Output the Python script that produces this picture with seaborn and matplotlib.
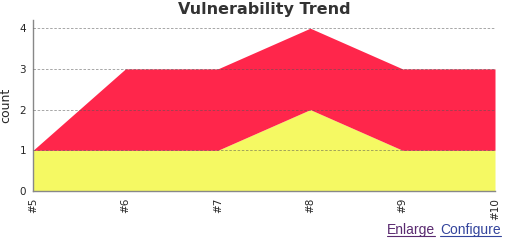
import matplotlib
matplotlib.use("Agg")
import matplotlib.pyplot as plt
import seaborn as sns
import pandas as pd

builds = ["#5", "#6", "#7", "#8", "#9", "#10"]
low_counts = [1, 1, 1, 2, 1, 1]
high_counts = [0, 2, 2, 2, 2, 2]
yticks = [0, 1, 2, 3, 4]

sns.set_style("white")
plt.rcParams['font.family'] = ['DejaVu Sans']

df = pd.DataFrame({"build": builds, "low": low_counts, "high": high_counts})
x = list(range(len(builds)))

fig = plt.figure(figsize=(5.11, 2.48), dpi=100)
ax = fig.add_axes([0.0646, 0.2298, 0.9041, 0.6894])
ax.stackplot(x, df["low"], df["high"], colors=["#F5F963", "#FF264B"], linewidth=0)
ax.set_xlim(0, len(builds) - 1)
ax.set_ylim(0, 4.2)
ax.set_yticks(yticks)
ax.set_xticks(x)
ax.set_xticklabels(builds, rotation=90, fontsize=7.5)
ax.tick_params(axis='y', labelsize=7.5, length=3, color='#888888', pad=2)
ax.tick_params(axis='x', length=3, color='#888888', pad=2)
for t in [1, 2, 3, 4]:
    ax.axhline(t, color='#555555', alpha=0.6, linestyle=(0, (3, 2)), linewidth=0.6, zorder=3)
for s in ["top", "right"]:
    ax.spines[s].set_visible(False)
for s in ["left", "bottom"]:
    ax.spines[s].set_color('#888888')
    ax.spines[s].set_linewidth(1.0)
ax.set_ylabel("count", fontsize=9, labelpad=5)
ax.set_xlabel("")
fig.text(0.517, 0.96, "Vulnerability Trend", ha='center', va='center', fontsize=11.5, fontweight='bold', color='#333333')
t1 = fig.text(0.851, 0.058, "Enlarge", ha='right', va='baseline', fontsize=10, color='#5a2a70', family='Liberation Sans')
t2 = fig.text(0.861, 0.058, "Configure", ha='left', va='baseline', fontsize=10, color='#33449c', family='Liberation Sans')
fig.canvas.draw()
r = fig.canvas.get_renderer()
for t, c in [(t1, '#5a2a70'), (t2, '#33449c')]:
    bb = t.get_window_extent(r).transformed(fig.transFigure.inverted())
    fig.add_artist(plt.Line2D([bb.x0, bb.x1], [0.049, 0.049], color=c, linewidth=0.8, transform=fig.transFigure))
fig.savefig("out.png", dpi=100)
